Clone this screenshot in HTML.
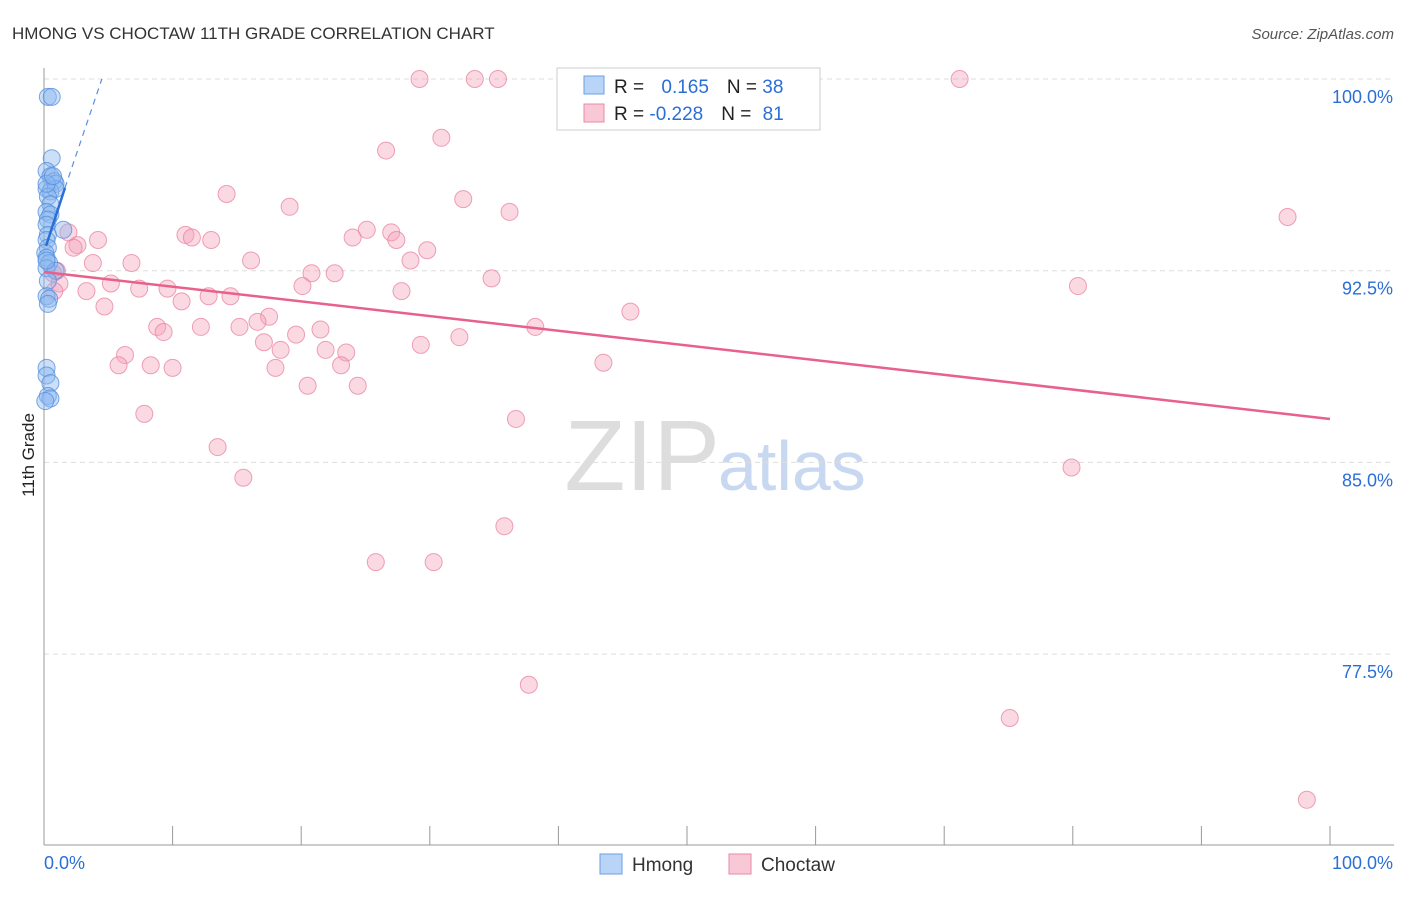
<!DOCTYPE html>
<html><head><meta charset="utf-8"><style>
body{margin:0;background:#fff;font-family:"Liberation Sans",sans-serif}
svg text{font-family:"Liberation Sans",sans-serif}
</style></head><body>
<svg width="1406" height="892" id="chart">
<text x="12" y="39" font-size="17" fill="#333">HMONG VS CHOCTAW 11TH GRADE CORRELATION CHART</text>
<text x="1394" y="39" font-size="15" fill="#555" text-anchor="end" font-style="italic">Source: ZipAtlas.com</text>
<text x="34" y="455" font-size="17" fill="#222" text-anchor="middle" transform="rotate(-90 34 455)">11th Grade</text>
<text x="720" y="490" font-size="100" fill="#ddd" text-anchor="end" font-family="Liberation Serif">ZIP</text>
<text x="718" y="490" font-size="70" fill="#c8d8f0">atlas</text>
<g id="grid"></g><g id="axes"></g><g id="pts"></g><g id="lines"></g>
<g>
<rect x="557" y="68" width="263" height="62" fill="#fff" stroke="#ccc"/>
<rect x="584" y="76" width="20" height="18" fill="#b8d4f6" stroke="#6d9fe0"/>
<text x="614" y="93" font-size="19" fill="#222">R = <tspan fill="#2a6fd6" dx="12">0.165</tspan><tspan dx="18" fill="#222">N = </tspan><tspan fill="#2a6fd6">38</tspan></text>
<rect x="584" y="104" width="20" height="18" fill="#f9c8d6" stroke="#e88aa6"/>
<text x="614" y="120" font-size="19" fill="#222">R = <tspan fill="#2a6fd6">-0.228</tspan><tspan dx="18" fill="#222">N = </tspan><tspan fill="#2a6fd6" dx="6">81</tspan></text>
</g>
<g>
<rect x="600" y="854" width="22" height="20" fill="#b8d4f6" stroke="#6d9fe0"/>
<text x="632" y="871" font-size="19" fill="#333">Hmong</text>
<rect x="729" y="854" width="22" height="20" fill="#f9c8d6" stroke="#e88aa6"/>
<text x="761" y="871" font-size="19" fill="#333">Choctaw</text>
</g>
</svg>
<script>
const yTicks=[100,92.5,85,77.5];
const yTickLabels=["100.0%","92.5%","85.0%","77.5%"];
const xTickLabels=["0.0%","100.0%"];
const hmongX=[0.3,0.6,0.6,0.2,0.5,0.8,0.9,0.2,0.5,0.9,0.3,0.5,0.2,0.5,0.3,0.2,1.5,0.3,0.2,0.3,0.1,0.2,0.4,0.2,0.9,0.3,0.2,0.4,0.3,0.2,0.2,0.5,0.3,0.5,0.1,0.2,0.7,0.2];
const hmongY=[99.3,99.3,96.9,96.4,96.2,96.0,95.9,95.7,95.6,95.7,95.4,95.1,94.8,94.7,94.5,94.3,94.1,93.9,93.7,93.4,93.2,93.0,92.8,92.6,92.5,92.1,91.5,91.4,91.2,88.7,88.4,88.1,87.6,87.5,87.4,95.9,96.2,92.9];
const choctawX=[29.2,33.5,35.3,71.2,30.9,26.6,14.2,32.6,19.1,36.2,96.7,1.9,11.0,11.5,24.0,25.1,27.0,27.4,13.0,4.2,2.6,2.3,29.8,16.1,6.8,3.8,28.5,34.8,20.8,22.6,1.0,1.2,20.1,80.4,3.3,5.2,7.4,9.6,27.8,12.8,14.5,10.7,4.7,45.6,17.5,16.6,15.2,12.2,8.8,9.3,21.5,19.6,38.2,32.3,17.1,29.3,18.4,21.9,23.5,6.3,5.8,8.3,10.0,23.1,43.5,18.0,20.5,24.4,7.8,36.7,13.5,15.5,79.9,35.8,25.8,30.3,37.7,75.1,98.2,0.8,0.7];
const choctawY=[100,100,100,100,97.7,97.2,95.5,95.3,95.0,94.8,94.6,94.0,93.9,93.8,93.8,94.1,94.0,93.7,93.7,93.7,93.5,93.4,93.3,92.9,92.8,92.8,92.9,92.2,92.4,92.4,92.5,92.0,91.9,91.9,91.7,92.0,91.8,91.8,91.7,91.5,91.5,91.3,91.1,90.9,90.7,90.5,90.3,90.3,90.3,90.1,90.2,90.0,90.3,89.9,89.7,89.6,89.4,89.4,89.3,89.2,88.8,88.8,88.7,88.8,88.9,88.7,88.0,88.0,86.9,86.7,85.6,84.4,84.8,82.5,81.1,81.1,76.3,75.0,71.8,91.7,92.4];
const choctawTrendX=[0,100];
const choctawTrendY=[92.45,86.7];
const hmongTrendX=[0.16,1.63];
const hmongTrendY=[93.47,95.74];
const hmongDashX=[1.63,4.5];
const hmongDashY=[95.74,100];
const NS='http://www.w3.org/2000/svg';
const sx=v=>44+v*12.86;
const sy=v=>79+(100-v)*25.56;
function mk(tag,attrs,parent){const e=document.createElementNS(NS,tag);for(const k in attrs)e.setAttribute(k,attrs[k]);document.getElementById(parent).appendChild(e);return e;}
yTicks.forEach((t,i)=>{
 const l=mk('line',{x1:44,x2:1394,y1:sy(t),y2:sy(t),stroke:'#ddd','stroke-dasharray':'5,4'},'grid');
 
 
 const tx=mk('text',{x:1393,y:sy(t)+24,'font-size':18,fill:'#2a6fd6','text-anchor':'end'},'grid');
 tx.textContent=yTickLabels[i];
 
 
});
const ax=mk('line',{x1:44,x2:44,y1:68,y2:845,stroke:'#999'},'axes');


const bx=mk('line',{x1:44,x2:1394,y1:845,y2:845,stroke:'#999'},'axes');


for(let i=0;i<=10;i++){
 const t=mk('line',{x1:sx(i*10),x2:sx(i*10),y1:826,y2:845,stroke:'#999'},'axes');
 
 
}
[[0,'start'],[100,'end']].forEach((p,i)=>{
 const tx=mk('text',{x:i?1393:44,y:869,'font-size':18,fill:'#2a6fd6','text-anchor':p[1]},'axes');
 tx.textContent=xTickLabels[i];
 
 
});
choctawX.forEach((x,i)=>{
 const c=mk('circle',{cx:sx(x),cy:sy(choctawY[i]),r:8.5,fill:'rgba(244,160,185,0.4)',stroke:'rgba(232,130,160,0.75)','stroke-width':1},'pts');
 
 
});
hmongX.forEach((x,i)=>{
 const c=mk('circle',{cx:sx(x),cy:sy(hmongY[i]),r:8.5,fill:'rgba(140,185,240,0.45)',stroke:'rgba(80,140,220,0.75)','stroke-width':1},'pts');
 
 
});
const pl=mk('line',{x1:sx(choctawTrendX[0]),y1:sy(choctawTrendY[0]),x2:sx(choctawTrendX[1]),y2:sy(choctawTrendY[1]),stroke:'#e8608c','stroke-width':2.5},'lines');


const hd=mk('line',{x1:sx(hmongDashX[0]),y1:sy(hmongDashY[0]),x2:sx(hmongDashX[1]),y2:sy(hmongDashY[1]),stroke:'#5a90e0','stroke-width':1.2,'stroke-dasharray':'6,5'},'lines');


const hl=mk('line',{x1:sx(hmongTrendX[0]),y1:sy(hmongTrendY[0]),x2:sx(hmongTrendX[1]),y2:sy(hmongTrendY[1]),stroke:'#2a6fd6','stroke-width':2.5},'lines');


</script>
</body></html>
